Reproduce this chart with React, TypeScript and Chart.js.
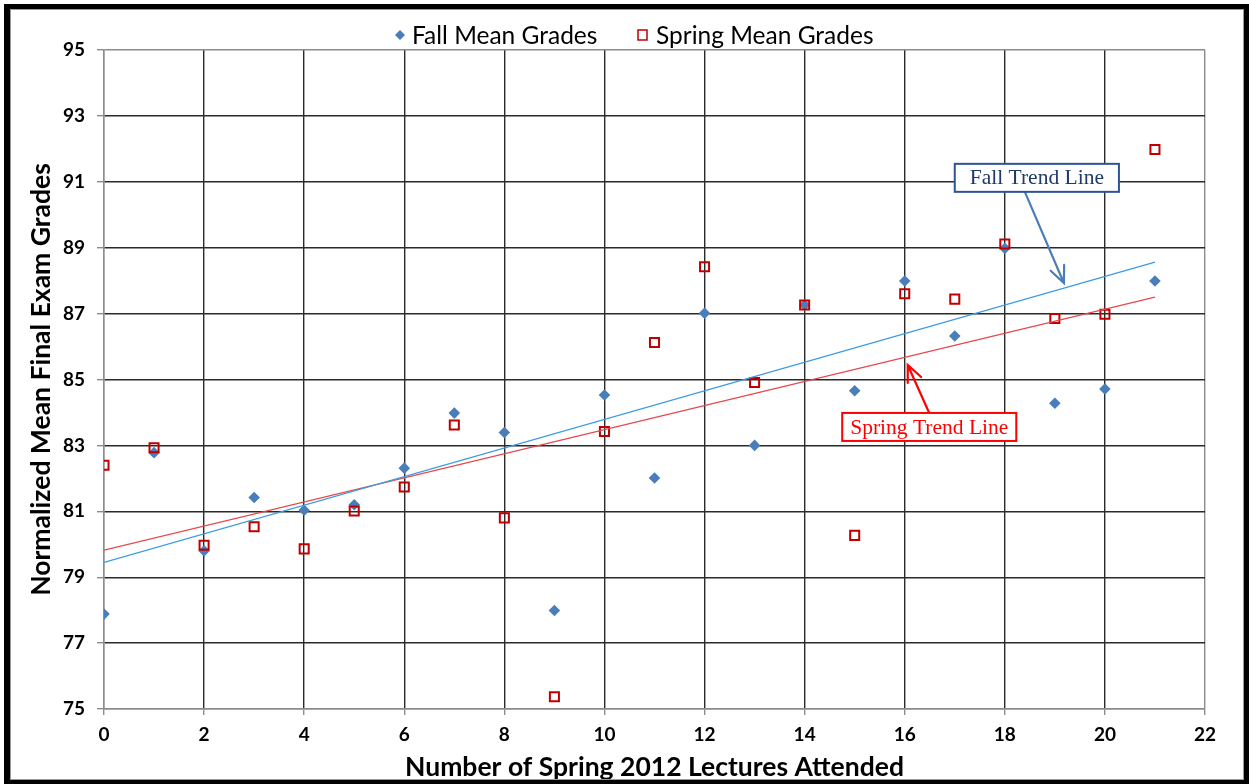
import React, { useEffect, useRef } from "react";
import { Chart, registerables } from "chart.js";

Chart.register(...registerables);

// ---- data ----
const lectures = [0, 1, 2, 3, 4, 5, 6, 7, 8, 9, 10, 11, 12, 13, 14, 15, 16, 17, 18, 19, 20, 21];
const fallGrades = [77.88, 82.78, 79.8, 81.42, 81.03, 81.2, 82.31, 83.98, 83.39, 77.99, 84.53, 82.01, 87.01, 83.0, 87.26, 84.66, 87.99, 86.32, 88.98, 84.28, 84.71, 87.99];
const springGrades = [82.4, 82.93, 79.97, 80.53, 79.86, 81.01, 81.74, 83.62, 80.8, 75.37, 83.42, 86.12, 88.42, 84.91, 87.26, 80.27, 87.6, 87.44, 89.11, 86.85, 86.98, 91.98];
const trendX = [0, 21];
const fallTrend = [79.45, 88.56];
const springTrend = [79.82, 87.5];
const xTickValues = [0, 2, 4, 6, 8, 10, 12, 14, 16, 18, 20, 22];
const yTickValues = [75, 77, 79, 81, 83, 85, 87, 89, 91, 93, 95];

const legendLabels = ["Fall Mean Grades", "Spring Mean Grades"];
const xTitle = "Number of Spring 2012 Lectures Attended";
const yTitle = "Normalized Mean Final Exam Grades";
const fallNote = "Fall Trend Line";
const springNote = "Spring Trend Line";
// annotation anchors in data units: [boxCenterX, boxCenterY, arrowTipX, arrowTipY]
const fallNotePos = [18.64, 91.12, 19.18, 87.93];
const springNotePos = [16.49, 83.56, 16.06, 85.44];

const FALL_BLUE = "#4A7EBB";
const SPRING_RED = "#C00000";
const SANS = 'Lato, "Open Sans", sans-serif';

function drawArrow(ctx: CanvasRenderingContext2D, x1: number, y1: number, x2: number, y2: number, color: string) {
  const ang = Math.atan2(y2 - y1, x2 - x1);
  const L = 18;
  const a = 0.42;
  ctx.save();
  ctx.strokeStyle = color;
  ctx.lineWidth = 2.2;
  ctx.lineCap = "round";
  ctx.beginPath();
  ctx.moveTo(x1, y1);
  ctx.lineTo(x2, y2);
  ctx.moveTo(x2 - L * Math.cos(ang - a), y2 - L * Math.sin(ang - a));
  ctx.lineTo(x2, y2);
  ctx.lineTo(x2 - L * Math.cos(ang + a), y2 - L * Math.sin(ang + a));
  ctx.stroke();
  ctx.restore();
}

function drawNote(
  ctx: CanvasRenderingContext2D,
  chart: any,
  text: string,
  pos: number[],
  textColor: string,
  borderColor: string,
  arrowColor: string,
  fromTop: boolean,
  pad: number
) {
  const xs = chart.scales.x;
  const ys = chart.scales.y;
  const cx = xs.getPixelForValue(pos[0]);
  const cy = ys.getPixelForValue(pos[1]);
  const tx = xs.getPixelForValue(pos[2]);
  const ty = ys.getPixelForValue(pos[3]);
  ctx.save();
  ctx.font = '21.5px "Liberation Serif", "Times New Roman", serif';
  const w = ctx.measureText(text).width + pad * 2;
  const h = 28;
  const bx = cx - w / 2;
  const by = cy - h / 2;
  drawArrow(ctx, fromTop ? cx - 12 : cx, fromTop ? by + h : by, tx, ty, arrowColor);
  ctx.fillStyle = "#ffffff";
  ctx.fillRect(bx, by, w, h);
  ctx.strokeStyle = borderColor;
  ctx.lineWidth = 2;
  ctx.strokeRect(bx, by, w, h);
  ctx.fillStyle = textColor;
  ctx.textAlign = "center";
  ctx.textBaseline = "middle";
  ctx.fillText(text, cx, cy + 1);
  ctx.restore();
}

const decorPlugin = {
  id: "decor",
  afterDatasetsDraw(chart: any) {
    const ctx: CanvasRenderingContext2D = chart.ctx;
    // legend
    ctx.save();
    ctx.font = "24.5px " + SANS;
    ctx.textBaseline = "middle";
    const ly = 35;
    ctx.fillStyle = FALL_BLUE;
    ctx.beginPath();
    ctx.moveTo(400, ly - 5);
    ctx.lineTo(405, ly);
    ctx.lineTo(400, ly + 5);
    ctx.lineTo(395, ly);
    ctx.closePath();
    ctx.fill();
    ctx.fillStyle = "#000";
    ctx.textAlign = "left";
    ctx.fillText(legendLabels[0], 412, ly + 1);
    ctx.strokeStyle = SPRING_RED;
    ctx.lineWidth = 1.5;
    ctx.strokeRect(638, ly - 5, 9, 10);
    ctx.fillText(legendLabels[1], 656, ly + 1);
    ctx.restore();

    drawNote(ctx, chart, fallNote, fallNotePos, "#1F3A68", "#2F5496", "#4A7EBB", true, 15);
    drawNote(ctx, chart, springNote, springNotePos, "#FF0000", "#FF0000", "#FF0000", false, 8);
  },
};

export default function App() {
  const canvasRef = useRef<HTMLCanvasElement | null>(null);

  useEffect(() => {
    if (!canvasRef.current) return;
    const gridColor = (c: any) => {
      const v = c.tick ? c.tick.value : null;
      if (c.scale.axis === "x" && (v === 0 || v === 22)) return "#8c8c8c";
      if (c.scale.axis === "y" && (v === 75 || v === 95)) return "#8c8c8c";
      return "#2a2a2a";
    };
    const chart = new Chart(canvasRef.current, {
      type: "scatter",
      data: {
        datasets: [
          {
            label: legendLabels[1],
            data: lectures.map((x, i) => ({ x, y: springGrades[i] })),
            pointStyle: "rect",
            pointRadius: 6.4,
            pointBackgroundColor: "rgba(0,0,0,0)",
            pointBorderColor: SPRING_RED,
            pointBorderWidth: 2,
            order: 1,
          },
          {
            label: legendLabels[0],
            data: lectures.map((x, i) => ({ x, y: fallGrades[i] })),
            pointStyle: "rectRot",
            pointRadius: 5.8,
            pointBackgroundColor: FALL_BLUE,
            pointBorderColor: FALL_BLUE,
            pointBorderWidth: 0,
            order: 2,
          },
          {
            label: "Fall trend",
            data: trendX.map((x, i) => ({ x, y: fallTrend[i] })),
            showLine: true,
            borderColor: "#3D9BE0",
            borderWidth: 1.3,
            pointRadius: 0,
            order: 0,
          },
          {
            label: "Spring trend",
            data: trendX.map((x, i) => ({ x, y: springTrend[i] })),
            showLine: true,
            borderColor: "#E8474C",
            borderWidth: 1.3,
            pointRadius: 0,
            order: 0,
          },
        ],
      },
      options: {
        responsive: false,
        animation: false,
        events: [],
        layout: { padding: { top: 50, right: 44, left: 0, bottom: 0 } },
        plugins: {
          legend: { display: false },
          tooltip: { enabled: false },
        },
        scales: {
          x: {
            type: "linear",
            min: 0,
            max: 22,
            afterBuildTicks: (s: any) => {
              s.ticks = xTickValues.map((v) => ({ value: v }));
            },
            afterFit: (s: any) => {
              s.height = 75;
            },
            ticks: {
              color: "#000",
              font: { family: SANS, size: 19, weight: "bold" },
              padding: 8,
            },
            grid: {
              color: gridColor,
              lineWidth: 1.4,
              tickLength: 6,
              tickColor: "#8c8c8c",
              tickWidth: 1.4,
            },
            border: { color: "#8c8c8c", width: 1.5 },
            title: {
              display: true,
              text: xTitle,
              color: "#000",
              font: { family: SANS, size: 26.5, weight: "bold" },
              padding: { top: 0, bottom: 1 },
            },
          },
          y: {
            type: "linear",
            min: 75,
            max: 95,
            afterBuildTicks: (s: any) => {
              s.ticks = yTickValues.map((v) => ({ value: v }));
            },
            afterFit: (s: any) => {
              s.width = 104;
            },
            ticks: {
              color: "#000",
              font: { family: SANS, size: 19, weight: "bold" },
              padding: 12,
            },
            grid: {
              color: gridColor,
              lineWidth: 1.4,
              tickLength: 7,
              tickColor: "#8c8c8c",
              tickWidth: 1.4,
            },
            border: { color: "#8c8c8c", width: 1.5 },
            title: {
              display: true,
              text: yTitle,
              color: "#000",
              font: { family: SANS, size: 26.5, weight: "bold" },
              padding: { top: 26, bottom: 0 },
            },
          },
        },
      },
      plugins: [decorPlugin],
    } as any);
    return () => chart.destroy();
  }, []);

  return (
    <div style={{ position: "absolute", left: 0, top: 0, width: 1249, height: 784, background: "#fff" }}>
      <canvas ref={canvasRef} width={1249} height={784} style={{ position: "absolute", left: 0, top: 0, width: 1249, height: 784 }} />
      <div
        style={{
          position: "absolute",
          left: 4,
          top: 4,
          width: 1245,
          height: 780,
          boxSizing: "border-box",
          borderStyle: "solid",
          borderColor: "#000",
          borderWidth: "5px 5px 4px 6px",
          pointerEvents: "none",
        }}
      >
        <div style={{ position: "absolute", inset: 0, border: "1px solid #9a9a9a" }} />
      </div>
    </div>
  );
}
